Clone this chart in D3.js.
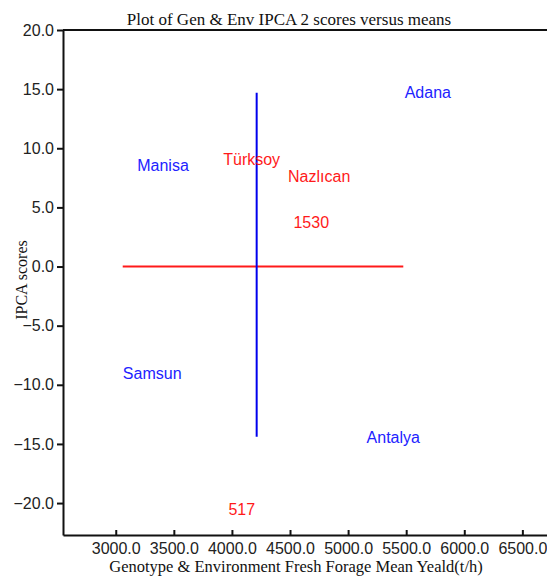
<!DOCTYPE html>
<html>
<head>
<meta charset="utf-8">
<script src="https://cdn.jsdelivr.net/npm/d3@7/dist/d3.min.js"></script>
<style>
  html, body { margin: 0; padding: 0; background: #fff; }
  svg { display: block; }
</style>
</head>
<body>
<script>
// ---- Data ----
const genotypeNames = ["Türksoy", "Nazlıcan", "1530", "517"];
const genotypeMeans = [4170, 4751, 4683, 4085];
const genotypeIPCA2 = [9.05, 7.64, 3.74, -20.55];

const environmentNames = ["Adana", "Manisa", "Samsun", "Antalya"];
const environmentMeans = [5686, 3407, 3314, 5389];
const environmentIPCA2 = [14.7, 8.54, -9.06, -14.48];

// reference lines: grand mean (vertical) and zero score (horizontal)
const hLineX = [3060, 5475];
const hLineY = 0;
const vLineX = 4213;
const vLineY = [-14.4, 14.7];

const xTicks = [3000, 3500, 4000, 4500, 5000, 5500, 6000, 6500];
const yTicks = [-20, -15, -10, -5, 0, 5, 10, 15, 20];

const titleText = "Plot of Gen & Env IPCA 2 scores versus means";
const xTitle = "Genotype & Environment Fresh Forage Mean Yeald(t/h)";
const yTitle = "IPCA scores";

// ---- Chart ----
(function () {
const W = 547, H = 576;
const mLeft = 63, mRight = 547, mTop = 30, mBottom = 535;

const svg = d3.select("body").append("svg").attr("width", W).attr("height", H);

const x = d3.scaleLinear().domain([2546, 6712]).range([mLeft, mRight]);
const y = d3.scaleLinear().domain([-22.7, 20]).range([mBottom, mTop]);

const sans = "'Liberation Sans', Arial, sans-serif";
const serif = "'Liberation Serif', 'Times New Roman', serif";

// top border
svg.append("line")
  .attr("x1", mLeft).attr("x2", mRight).attr("y1", mTop).attr("y2", mTop)
  .attr("stroke", "#111").attr("stroke-width", 2);

// y axis
const yAxis = svg.append("g")
  .attr("transform", `translate(${mLeft},0)`)
  .call(d3.axisLeft(y).tickValues(yTicks).tickFormat(d3.format(".1f")).tickSize(6).tickSizeOuter(0).tickPadding(3));
yAxis.select(".domain").attr("stroke", "#111").attr("stroke-width", 2);
yAxis.selectAll(".tick line").attr("stroke", "#111").attr("stroke-width", 2);
yAxis.selectAll("text").attr("font-family", sans).attr("font-size", 16).attr("fill", "#222");

// x axis (ticks pointing inward)
const xAxis = svg.append("g")
  .attr("transform", `translate(0,${mBottom})`)
  .call(d3.axisBottom(x).tickValues(xTicks).tickFormat(d3.format(".1f")).tickSize(0).tickSizeOuter(0).tickPadding(8));
xAxis.select(".domain").attr("stroke", "#111").attr("stroke-width", 2);
xAxis.selectAll(".tick").append("line")
  .attr("y1", 0).attr("y2", -5).attr("stroke", "#111").attr("stroke-width", 2);
xAxis.selectAll("text").attr("font-family", sans).attr("font-size", 16).attr("fill", "#222");

// reference lines
svg.append("line")
  .attr("x1", x(hLineX[0])).attr("x2", x(hLineX[1]))
  .attr("y1", y(hLineY)).attr("y2", y(hLineY))
  .attr("stroke", "#ff1a1a").attr("stroke-width", 2);
svg.append("line")
  .attr("x1", x(vLineX)).attr("x2", x(vLineX))
  .attr("y1", y(vLineY[0])).attr("y2", y(vLineY[1]))
  .attr("stroke", "#0000ee").attr("stroke-width", 2);

// genotype labels (red)
svg.append("g").selectAll("text")
  .data(genotypeNames.map((n, i) => ({ n, mx: genotypeMeans[i], s: genotypeIPCA2[i] })))
  .join("text")
  .attr("x", d => x(d.mx)).attr("y", d => y(d.s))
  .attr("text-anchor", "middle").attr("dominant-baseline", "central")
  .attr("font-family", sans).attr("font-size", 16).attr("fill", "#ff1a1a")
  .text(d => d.n);

// environment labels (blue)
svg.append("g").selectAll("text")
  .data(environmentNames.map((n, i) => ({ n, mx: environmentMeans[i], s: environmentIPCA2[i] })))
  .join("text")
  .attr("x", d => x(d.mx)).attr("y", d => y(d.s))
  .attr("text-anchor", "middle").attr("dominant-baseline", "central")
  .attr("font-family", sans).attr("font-size", 16).attr("fill", "#2222ff")
  .text(d => d.n);

// titles
svg.append("text").attr("x", 289).attr("y", 25)
  .attr("text-anchor", "middle").attr("font-family", serif).attr("font-size", 17).attr("fill", "#111")
  .text(titleText);

svg.append("text").attr("x", 296).attr("y", 571.5)
  .attr("text-anchor", "middle").attr("font-family", serif).attr("font-size", 16.5).attr("fill", "#111")
  .text(xTitle);

svg.append("text")
  .attr("transform", "translate(27,280) rotate(-90)")
  .attr("text-anchor", "middle").attr("font-family", serif).attr("font-size", 16).attr("fill", "#111")
  .text(yTitle);
})();
</script>
</body>
</html>
